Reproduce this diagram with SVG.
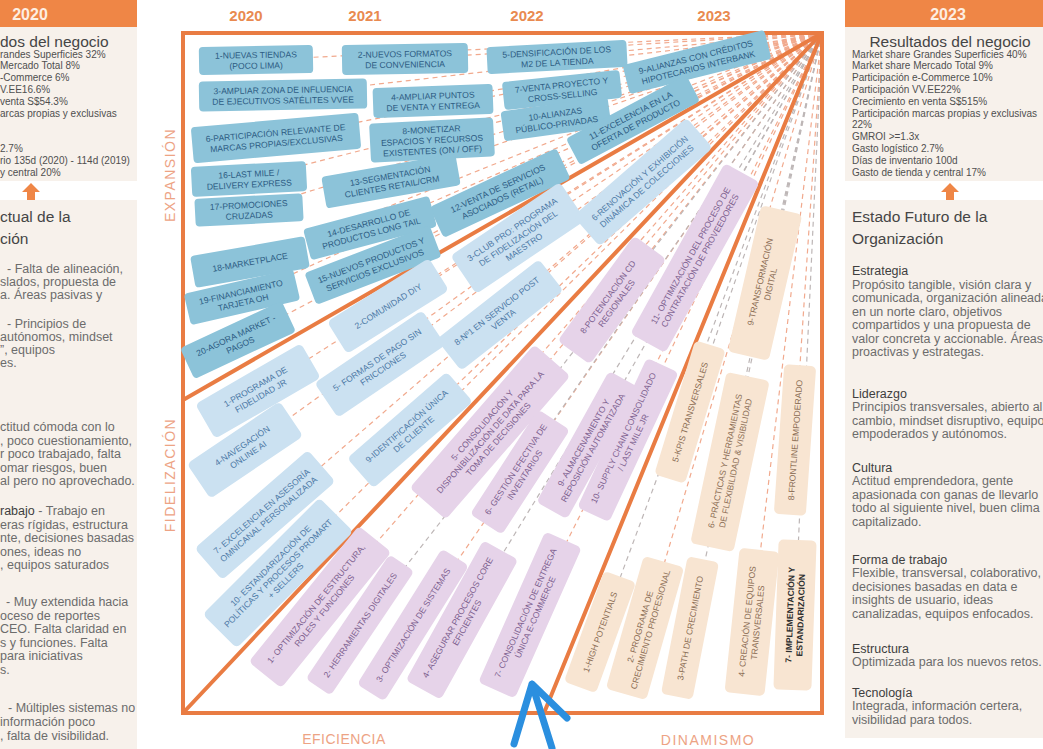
<svg xmlns="http://www.w3.org/2000/svg" width="1043" height="749" viewBox="0 0 1043 749">
<defs>
<style>
.panel{fill:#f7f1eb}
.hdr{fill:#ef8646}
.hdrt{font:bold 16px 'Liberation Sans',Arial,sans-serif;fill:#fdeee2;text-anchor:middle}
.ttl{font:15.5px 'Liberation Sans',Arial,sans-serif;fill:#454545}
.sm{font:10px 'Liberation Sans',Arial,sans-serif;fill:#4f4f4f}
.bd{font:12.5px 'Liberation Sans',Arial,sans-serif;fill:#6c6c6c}
.hd{fill:#3e3e3e}
.yr{font:bold 15px 'Liberation Sans',Arial,sans-serif;fill:#e98a50;text-anchor:middle}
.ax{font:14px 'Liberation Sans',Arial,sans-serif;fill:#eda384;text-anchor:middle;letter-spacing:1.5px}
.sep{stroke:#e97c43;stroke-width:4;fill:none;stroke-linecap:round}
.frame{stroke:#e97c43;stroke-width:4;fill:none}
.ray{stroke:#f1a98d;stroke-width:1.2;stroke-dasharray:5 4;fill:none}
.rayg{stroke:#bdb6b6;stroke-width:1.2;stroke-dasharray:5 4;fill:none}
.n text{font-family:'Liberation Sans',Arial,sans-serif;font-size:8.6px;text-anchor:middle}
.exp rect{fill:#8cc3d9}.exp text{fill:#2d5c83}
.fid rect{fill:#cbe1f1}.fid text{fill:#4d79a6}
.efi rect{fill:#e6d3e9}.efi text{fill:#7d5f8f}
.din rect{fill:#f8e5d2}.din text{fill:#8b6d55}
.din.dk text{fill:#2e2e2e;font-weight:bold}
.arw{fill:#ef8646}
</style>
</defs>
<rect x="0" y="0" width="1043" height="749" fill="#ffffff"/>

<!-- Left panel -->
<g id="left-panel">
<rect class="hdr" x="0" y="0" width="137" height="27"/>
<text class="hdrt" x="30" y="20">2020</text>
<rect class="panel" x="0" y="27" width="137" height="154"/>
<text class="ttl" x="0" y="47">dos del negocio</text>
<text class="sm" x="0" y="57.5">randes Superficies 32%</text>
<text class="sm" x="0" y="69.3">Mercado Total 8%</text>
<text class="sm" x="0" y="81.1">-Commerce 6%</text>
<text class="sm" x="0" y="92.9">V.EE16.6%</text>
<text class="sm" x="0" y="104.7">venta S$54.3%</text>
<text class="sm" x="0" y="116.5">arcas propias y exclusivas</text>
<text class="sm" x="0" y="151.9">2.7%</text>
<text class="sm" x="0" y="163.7">rio 135d (2020) - 114d (2019)</text>
<text class="sm" x="0" y="175.5">y central 20%</text>
<polygon class="arw" points="31,183 40,192 35,192 35,200 27,200 27,192 22,192"/>
<rect class="panel" x="0" y="200" width="137" height="549"/>
<text class="ttl" x="0" y="222">ctual de la</text>
<text class="ttl" x="0" y="244">ción</text>
<text class="bd" x="7" y="272.5">- Falta de alineación,</text>
<text class="bd" x="0" y="285.5">slados, propuesta de</text>
<text class="bd" x="0" y="298.5">a. Áreas pasivas y</text>
<text class="bd" x="7" y="328">- Principios de</text>
<text class="bd" x="0" y="341">autónomos, mindset</text>
<text class="bd" x="0" y="354">”, equipos</text>
<text class="bd" x="0" y="367">es.</text>
<text class="bd" x="0" y="431">ctitud cómoda con lo</text>
<text class="bd" x="0" y="444.5">, poco cuestionamiento,</text>
<text class="bd" x="0" y="458">r poco trabajado, falta</text>
<text class="bd" x="0" y="471.5">omar riesgos, buen</text>
<text class="bd" x="0" y="485">al pero no aprovechado.</text>
<text class="bd" x="0" y="515"><tspan class="hd">rabajo</tspan> - Trabajo en</text>
<text class="bd" x="0" y="528.5">eras rígidas, estructura</text>
<text class="bd" x="0" y="542">nte, decisiones basadas</text>
<text class="bd" x="0" y="555.5">ones, ideas no</text>
<text class="bd" x="0" y="569">, equipos saturados</text>
<text class="bd" x="6" y="606">- Muy extendida hacia</text>
<text class="bd" x="0" y="619.5">oceso de reportes</text>
<text class="bd" x="0" y="633">CEO. Falta claridad en</text>
<text class="bd" x="0" y="646.5">s y funciones. Falta</text>
<text class="bd" x="0" y="660">para iniciativas</text>
<text class="bd" x="0" y="673.5">s.</text>
<text class="bd" x="8" y="712">- Múltiples sistemas no</text>
<text class="bd" x="0" y="726">información poco</text>
<text class="bd" x="0" y="740">, falta de visibilidad.</text>
</g>

<!-- Right panel -->
<g id="right-panel">
<rect class="hdr" x="845" y="0" width="198" height="27"/>
<text class="hdrt" x="948" y="20">2023</text>
<rect class="panel" x="845" y="27" width="198" height="154"/>
<text class="ttl" x="950" y="47" text-anchor="middle">Resultados del negocio</text>
<text class="sm" x="852" y="57.5">Market share Grandes Superficies 40%</text>
<text class="sm" x="852" y="69.3">Market share Mercado Total 9%</text>
<text class="sm" x="852" y="81.1">Participación e-Commerce 10%</text>
<text class="sm" x="852" y="92.9">Participación VV.EE22%</text>
<text class="sm" x="852" y="104.7">Crecimiento en venta S$515%</text>
<text class="sm" x="852" y="116.5">Participación marcas propias y exclusivas</text>
<text class="sm" x="852" y="128.3">22%</text>
<text class="sm" x="852" y="140.1">GMROI &gt;=1.3x</text>
<text class="sm" x="852" y="151.9">Gasto logístico 2.7%</text>
<text class="sm" x="852" y="163.7">Días de inventario 100d</text>
<text class="sm" x="852" y="175.5">Gasto de tienda y central 17%</text>
<polygon class="arw" points="950,183 959,192 954,192 954,200 946,200 946,192 941,192"/>
<rect class="panel" x="845" y="200" width="198" height="538"/>
<text class="ttl" x="852" y="222">Estado Futuro de la</text>
<text class="ttl" x="852" y="244">Organización</text>
<text class="bd hd" x="852" y="274.5">Estrategia</text>
<text class="bd" x="852" y="288.5">Propósito tangible, visión clara y</text>
<text class="bd" x="852" y="302">comunicada, organización alineada</text>
<text class="bd" x="852" y="315.5">en un norte claro, objetivos</text>
<text class="bd" x="852" y="329">compartidos y una propuesta de</text>
<text class="bd" x="852" y="342.5">valor concreta y accionable. Áreas</text>
<text class="bd" x="852" y="356">proactivas y estrategas.</text>
<text class="bd hd" x="852" y="397.5">Liderazgo</text>
<text class="bd" x="852" y="411">Principios transversales, abierto al</text>
<text class="bd" x="852" y="424.5">cambio, mindset disruptivo, equipos</text>
<text class="bd" x="852" y="438">empoderados y autónomos.</text>
<text class="bd hd" x="852" y="471.5">Cultura</text>
<text class="bd" x="852" y="485">Actitud emprendedora, gente</text>
<text class="bd" x="852" y="498.5">apasionada con ganas de llevarlo</text>
<text class="bd" x="852" y="512">todo al siguiente nivel, buen clima</text>
<text class="bd" x="852" y="525.5">capitalizado.</text>
<text class="bd hd" x="852" y="563.5">Forma de trabajo</text>
<text class="bd" x="852" y="577">Flexible, transversal, colaborativo,</text>
<text class="bd" x="852" y="590.5">decisiones basadas en data e</text>
<text class="bd" x="852" y="604">insights de usuario, ideas</text>
<text class="bd" x="852" y="617.5">canalizadas, equipos enfocados.</text>
<text class="bd hd" x="852" y="652.5">Estructura</text>
<text class="bd" x="852" y="666">Optimizada para los nuevos retos.</text>
<text class="bd hd" x="852" y="696.5">Tecnología</text>
<text class="bd" x="852" y="710">Integrada, información certera,</text>
<text class="bd" x="852" y="723.5">visibilidad para todos.</text>
</g>

<!-- Labels -->
<g id="labels">
<text class="yr" x="246" y="21">2020</text>
<text class="yr" x="365" y="21">2021</text>
<text class="yr" x="527" y="21">2022</text>
<text class="yr" x="714" y="21">2023</text>
<text class="ax" transform="translate(175 175) rotate(-90)">EXPANSIÓN</text>
<text class="ax" transform="translate(175 475) rotate(-90)">FIDELIZACIÓN</text>
<text class="ax" x="344" y="744" style="letter-spacing:0.5px">EFICIENCIA</text>
<text class="ax" x="708" y="745">DINAMISMO</text>
</g>

<!-- Connectors -->
<g id="connectors">
<g class="ray">
<line x1="822" y1="33" x2="256" y2="60"/>
<line x1="822" y1="33" x2="405" y2="59"/>
<line x1="822" y1="33" x2="557" y2="57"/>
<line x1="822" y1="33" x2="697" y2="62"/>
<line x1="822" y1="33" x2="283" y2="95"/>
<line x1="822" y1="33" x2="433" y2="101"/>
<line x1="822" y1="33" x2="562" y2="90"/>
<line x1="822" y1="33" x2="276" y2="138"/>
<line x1="822" y1="33" x2="432" y2="140"/>
<line x1="822" y1="33" x2="556" y2="119"/>
<line x1="822" y1="33" x2="633" y2="120"/>
<line x1="822" y1="33" x2="249" y2="179"/>
<line x1="822" y1="33" x2="391" y2="181"/>
<line x1="822" y1="33" x2="500" y2="193"/>
<line x1="822" y1="33" x2="249" y2="210"/>
<line x1="822" y1="33" x2="370" y2="229"/>
<line x1="822" y1="33" x2="250" y2="262"/>
<line x1="822" y1="33" x2="373" y2="264"/>
<line x1="822" y1="33" x2="242" y2="297"/>
<line x1="822" y1="33" x2="238" y2="340"/>
<line x1="822" y1="33" x2="258" y2="391"/>
<line x1="822" y1="33" x2="388" y2="306"/>
<line x1="822" y1="33" x2="518" y2="238"/>
<line x1="822" y1="33" x2="643" y2="182"/>
<line x1="822" y1="33" x2="380" y2="364"/>
<line x1="822" y1="33" x2="500" y2="315"/>
<line x1="822" y1="33" x2="245" y2="450"/>
<line x1="822" y1="33" x2="410" y2="430"/>
<line x1="822" y1="33" x2="265" y2="515"/>
<line x1="822" y1="33" x2="278" y2="573"/>
<line x1="822" y1="33" x2="490" y2="432"/>
<line x1="822" y1="33" x2="320" y2="607"/>
<line x1="822" y1="33" x2="413" y2="625"/>
<line x1="822" y1="33" x2="612" y2="300"/>
<line x1="822" y1="33" x2="628" y2="440"/>
<line x1="822" y1="33" x2="530" y2="615"/>
<line x1="822" y1="33" x2="795" y2="440"/>
<line x1="822" y1="33" x2="645" y2="628"/>
<line x1="822" y1="33" x2="752" y2="622"/>
</g>
<g class="rayg">
<line x1="822" y1="33" x2="518" y2="472"/>
<line x1="822" y1="33" x2="360" y2="625"/>
<line x1="822" y1="33" x2="462" y2="620"/>
<line x1="822" y1="33" x2="588" y2="445"/>
<line x1="822" y1="33" x2="695" y2="258"/>
<line x1="822" y1="33" x2="765" y2="283"/>
<line x1="822" y1="33" x2="690" y2="410"/>
<line x1="822" y1="33" x2="730" y2="460"/>
<line x1="822" y1="33" x2="600" y2="632"/>
<line x1="822" y1="33" x2="690" y2="628"/>
<line x1="822" y1="33" x2="795" y2="615"/>
</g>
<line class="sep" x1="822" y1="33" x2="183" y2="400"/>
<line class="sep" x1="822" y1="33" x2="183" y2="713"/>
<line class="sep" x1="822" y1="33" x2="544" y2="713"/>
<rect class="frame" x="183" y="33" width="639" height="680"/>
</g>

<!-- Expansión nodes -->
<g id="e1" class="n exp" transform="translate(256 60) rotate(-1)"><rect x="-57" y="-14" width="114" height="28" rx="4"/><text y="-2">1-NUEVAS TIENDAS</text><text y="8.6">(POCO LIMA)</text></g>
<g id="e2" class="n exp" transform="translate(405 59) rotate(-1)"><rect x="-63" y="-15" width="126" height="30" rx="4"/><text y="-2">2-NUEVOS FORMATOS</text><text y="8.6">DE CONVENIENCIA</text></g>
<g id="e5" class="n exp" transform="translate(557 57) rotate(-3)"><rect x="-70" y="-13.5" width="140" height="27" rx="4"/><text y="-2">5-DENSIFICACIÓN DE LOS</text><text y="8.6">M2 DE LA TIENDA</text></g>
<g id="e9" class="n exp" transform="translate(697 62) rotate(-14)"><rect x="-73" y="-15" width="146" height="30" rx="4"/><text y="-2">9-ALIANZAS CON CRÉDITOS</text><text y="8.6">HIPOTECARIOS INTERBANK</text></g>
<g id="e3" class="n exp" transform="translate(283 95) rotate(-1)"><rect x="-84" y="-15" width="168" height="30" rx="4"/><text y="-2">3-AMPLIAR ZONA DE INFLUENCIA</text><text y="8.6">DE EJECUTIVOS SATÉLITES VVEE</text></g>
<g id="e4" class="n exp" transform="translate(433 101) rotate(-2)"><rect x="-60" y="-15" width="120" height="30" rx="4"/><text y="-2">4-AMPLIAR PUNTOS</text><text y="8.6">DE VENTA Y ENTREGA</text></g>
<g id="e7" class="n exp" transform="translate(562 90) rotate(-6)"><rect x="-59" y="-14" width="118" height="28" rx="4"/><text y="-2">7-VENTA PROYECTO Y</text><text y="8.6">CROSS-SELLING</text></g>
<g id="e6" class="n exp" transform="translate(276 138) rotate(-5)"><rect x="-84" y="-18" width="168" height="36" rx="4"/><text y="-2">6-PARTICIPACIÓN RELEVANTE DE</text><text y="8.6">MARCAS PROPIAS/EXCLUSIVAS</text></g>
<g id="e8" class="n exp" transform="translate(432 140) rotate(-3)"><rect x="-62" y="-19.5" width="124" height="39" rx="4"/><text y="-7.3">8-MONETIZAR</text><text y="3.3">ESPACIOS Y RECURSOS</text><text y="13.9">EXISTENTES (ON / OFF)</text></g>
<g id="e10" class="n exp" transform="translate(556 119) rotate(-8)"><rect x="-54" y="-15" width="108" height="30" rx="4"/><text y="-2">10-ALIANZAS</text><text y="8.6">PÚBLICO-PRIVADAS</text></g>
<g id="e11" class="n exp" transform="translate(633 120) rotate(-28)"><rect x="-68" y="-15" width="136" height="30" rx="4"/><text y="-2">11-EXCELENCIA EN LA</text><text y="8.6">OFERTA DE PRODUCTO</text></g>
<g id="e16" class="n exp" transform="translate(249 179) rotate(-3)"><rect x="-57.5" y="-15" width="115" height="30" rx="4"/><text y="-2">16-LAST MILE /</text><text y="8.6">DELIVERY EXPRESS</text></g>
<g id="e13" class="n exp" transform="translate(391 181) rotate(-10)"><rect x="-68" y="-16" width="136" height="32" rx="4"/><text y="-2">13-SEGMENTACIÓN</text><text y="8.6">CLIENTES RETAIL/CRM</text></g>
<g id="e12" class="n exp" transform="translate(500 193) rotate(-25)"><rect x="-70" y="-17" width="140" height="34" rx="4"/><text y="-2">12-VENTA DE SERVICIOS</text><text y="8.6">ASOCIADOS (RETAIL)</text></g>
<g id="e17" class="n exp" transform="translate(249 210) rotate(-3)"><rect x="-54" y="-14" width="108" height="28" rx="4"/><text y="-2">17-PROMOCIONES</text><text y="8.6">CRUZADAS</text></g>
<g id="e14" class="n exp" transform="translate(370 228) rotate(-15)"><rect x="-65" y="-16" width="130" height="32" rx="4"/><text y="-2">14-DESARROLLO DE</text><text y="8.6">PRODUCTOS LONG TAIL</text></g>
<g id="e18" class="n exp" transform="translate(250 262) rotate(-10)"><rect x="-58" y="-16" width="116" height="32" rx="4"/><text y="3.2">18-MARKETPLACE</text></g>
<g id="e15" class="n exp" transform="translate(373 265) rotate(-21)"><rect x="-67" y="-17" width="134" height="34" rx="4"/><text y="-2">15-NUEVOS PRODUCTOS Y</text><text y="8.6">SERVICIOS EXCLUSIVOS</text></g>
<g id="e19" class="n exp" transform="translate(242 297) rotate(-13)"><rect x="-56" y="-16" width="112" height="32" rx="4"/><text y="-2">19-FINANCIAMIENTO</text><text y="8.6">TARJETA OH</text></g>
<g id="e20" class="n exp" transform="translate(238 340) rotate(-25)"><rect x="-56" y="-17" width="112" height="34" rx="4"/><text y="-2">20-AGORA MARKET -</text><text y="8.6">PAGOS</text></g>

<!-- Fidelización nodes -->
<g id="f1" class="n fid" transform="translate(258 391) rotate(-30)"><rect x="-61" y="-20" width="122" height="40" rx="5"/><text y="-2">1-PROGRAMA DE</text><text y="8.6">FIDELIDAD JR</text></g>
<g id="f2" class="n fid" transform="translate(388 306) rotate(-32)"><rect x="-60" y="-19" width="120" height="38" rx="5"/><text y="3.2">2-COMUNIDAD DIY</text></g>
<g id="f3" class="n fid" transform="translate(518 238) rotate(-34)"><rect x="-66" y="-23" width="132" height="46" rx="5"/><text y="-7.3">3-CLUB PRO: PROGRAMA</text><text y="3.3">DE FIDELIZACIÓN DEL</text><text y="13.9">MAESTRO</text></g>
<g id="f6" class="n fid" transform="translate(643 182) rotate(-41)"><rect x="-75" y="-20" width="150" height="40" rx="5"/><text y="-2">6-RENOVACIÓN Y EXHIBICIÓN</text><text y="8.6">DINÁMICA DE COLECCIONES</text></g>
<g id="f5" class="n fid" transform="translate(380 364) rotate(-34)"><rect x="-65" y="-21" width="130" height="42" rx="5"/><text y="-2">5- FORMAS DE PAGO SIN</text><text y="8.6">FRICCIONES</text></g>
<g id="f8" class="n fid" transform="translate(500 315) rotate(-38)"><rect x="-65" y="-20" width="130" height="40" rx="5"/><text y="-2">8-Nº1 EN SERVICIO POST</text><text y="8.6">VENTA</text></g>
<g id="f4" class="n fid" transform="translate(245 450) rotate(-34)"><rect x="-56" y="-21" width="112" height="42" rx="5"/><text y="-2">4-NAVEGACIÓN</text><text y="8.6">ONLINE AI</text></g>
<g id="f9" class="n fid" transform="translate(410 430) rotate(-41)"><rect x="-66" y="-20" width="132" height="40" rx="5"/><text y="-2">9-IDENTIFICACIÓN ÚNICA</text><text y="8.6">DE CLIENTE</text></g>
<g id="f7" class="n fid" transform="translate(265 515) rotate(-41)"><rect x="-75" y="-21" width="150" height="42" rx="5"/><text y="-2">7- EXCELENCIA EN ASESORÍA</text><text y="8.6">OMNICANAL PERSONALIZADA</text></g>
<g id="f10" class="n fid" transform="translate(278 573) rotate(-45)"><rect x="-82.5" y="-24" width="165" height="48" rx="5"/><text y="-7.3">10- ESTANDARIZACIÓN DE</text><text y="3.3">POLÍTICAS Y PROCESOS PROMART</text><text y="13.9">+ SELLERS</text></g>

<!-- Eficiencia nodes -->
<g id="ef5" class="n efi" transform="translate(490 432) rotate(-49)"><rect x="-95" y="-24" width="190" height="48" rx="5"/><text y="-7.3">5- CONSOLIDACIÓN Y</text><text y="3.3">DISPONIBILIZACIÓN DE DATA PARA LA</text><text y="13.9">TOMA DE DECISIONES</text></g>
<g id="ef6" class="n efi" transform="translate(520 472) rotate(-57)"><rect x="-62.5" y="-19" width="125" height="38" rx="5"/><text y="-2">6- GESTIÓN EFECTIVA DE</text><text y="8.6">INVENTARIOS</text></g>
<g id="ef8" class="n efi" transform="translate(612 300) rotate(-54)"><rect x="-65" y="-20" width="130" height="40" rx="5"/><text y="-2">8-POTENCIACIÓN CD</text><text y="8.6">REGIONALES</text></g>
<g id="ef9" class="n efi" transform="translate(588 445) rotate(-61)"><rect x="-75" y="-17.5" width="150" height="35" rx="5"/><text y="-2">9- ALMACENAMIENTO Y</text><text y="8.6">REPOSICIÓN AUTOMATIZADA</text></g>
<g id="ef10" class="n efi" transform="translate(628 440) rotate(-65)"><rect x="-82.5" y="-17.5" width="165" height="35" rx="5"/><text y="-2">10- SUPPLY CHAIN CONSOLIDADO</text><text y="8.6">/ LAST MILE JR</text></g>
<g id="ef11" class="n efi" transform="translate(695 258) rotate(-61)"><rect x="-97.5" y="-20" width="195" height="40" rx="5"/><text y="-2">11- OPTIMIZACIÓN DEL PROCESO DE</text><text y="8.6">CONTRATACIÓN DE PROVEEDORES</text></g>
<g id="ef1" class="n efi" transform="translate(320 607) rotate(-51)"><rect x="-87.5" y="-21" width="175" height="42" rx="5"/><text y="-2">1- OPTIMIZACIÓN DE ESTRUCTURA,</text><text y="8.6">ROLES Y FUNCIONES</text></g>
<g id="ef2" class="n efi" transform="translate(360 625) rotate(-56)"><rect x="-75" y="-15" width="150" height="30" rx="5"/><text y="3.2">2- HERRAMIENTAS DIGITALES</text></g>
<g id="ef3" class="n efi" transform="translate(413 625) rotate(-58)"><rect x="-80" y="-16" width="160" height="32" rx="5"/><text y="3.2">3- OPTIMIZACIÓN DE SISTEMAS</text></g>
<g id="ef4" class="n efi" transform="translate(462 620) rotate(-61)"><rect x="-80" y="-20" width="160" height="40" rx="5"/><text y="-2">4- ASEGURAR PROCESOS CORE</text><text y="8.6">EFICIENTES</text></g>
<g id="ef7" class="n efi" transform="translate(530 615) rotate(-66)"><rect x="-82.5" y="-20" width="165" height="40" rx="5"/><text y="-2">7- CONSOLIDACIÓN DE ENTREGA</text><text y="8.6">ÚNICA E-COMMERCE</text></g>

<!-- Dinamismo nodes -->
<g id="d9" class="n din" transform="translate(765 283) rotate(-77)"><rect x="-75" y="-21" width="150" height="42" rx="5"/><text y="-2">9-TRANSFORMACIÓN</text><text y="8.6">DIGITAL</text></g>
<g id="d5" class="n din" transform="translate(690 412) rotate(-73)"><rect x="-70" y="-16" width="140" height="32" rx="5"/><text y="3.2">5-KPIS TRANSVERSALES</text></g>
<g id="d6" class="n din" transform="translate(730 462) rotate(-78)"><rect x="-87.5" y="-22" width="175" height="44" rx="5"/><text y="-2">6- PRÁCTICAS Y HERRAMIENTAS</text><text y="8.6">DE FLEXIBILIDAD &amp; VISIBILIDAD</text></g>
<g id="d8" class="n din" transform="translate(795 440) rotate(-86)"><rect x="-75" y="-16" width="150" height="32" rx="5"/><text y="3.2">8-FRONTLINE EMPODERADO</text></g>
<g id="d1" class="n din" transform="translate(600 632) rotate(-70)"><rect x="-59" y="-17" width="118" height="34" rx="5"/><text y="3.2">1-HIGH POTENTIALS</text></g>
<g id="d2" class="n din" transform="translate(645 628) rotate(-74)"><rect x="-69" y="-21" width="138" height="42" rx="5"/><text y="-2">2- PROGRAMA DE</text><text y="8.6">CRECIMIENTO PROFESIONAL</text></g>
<g id="d3" class="n din" transform="translate(690 628) rotate(-79)"><rect x="-70" y="-16" width="140" height="32" rx="5"/><text y="3.2">3-PATH DE CRECIMIENTO</text></g>
<g id="d4" class="n din" transform="translate(752 622) rotate(-84)"><rect x="-72.5" y="-20" width="145" height="40" rx="5"/><text y="-2">4- CREACIÓN DE EQUIPOS</text><text y="8.6">TRANSVERSALES</text></g>
<g id="d7" class="n din dk" transform="translate(795 615) rotate(-88)"><rect x="-75" y="-19" width="150" height="38" rx="5"/><text y="-2">7- IMPLEMENTACIÓN Y</text><text y="8.6">ESTANDARIZACIÓN</text></g>

<!-- Blue arrow -->
<g id="blue-arrow">
<path d="M514,744 L532,684 L567,718 M532,684 L552,748" fill="none" stroke="#2b8fdf" stroke-width="7" stroke-linecap="round" stroke-linejoin="round"/>
</g>
</svg>
